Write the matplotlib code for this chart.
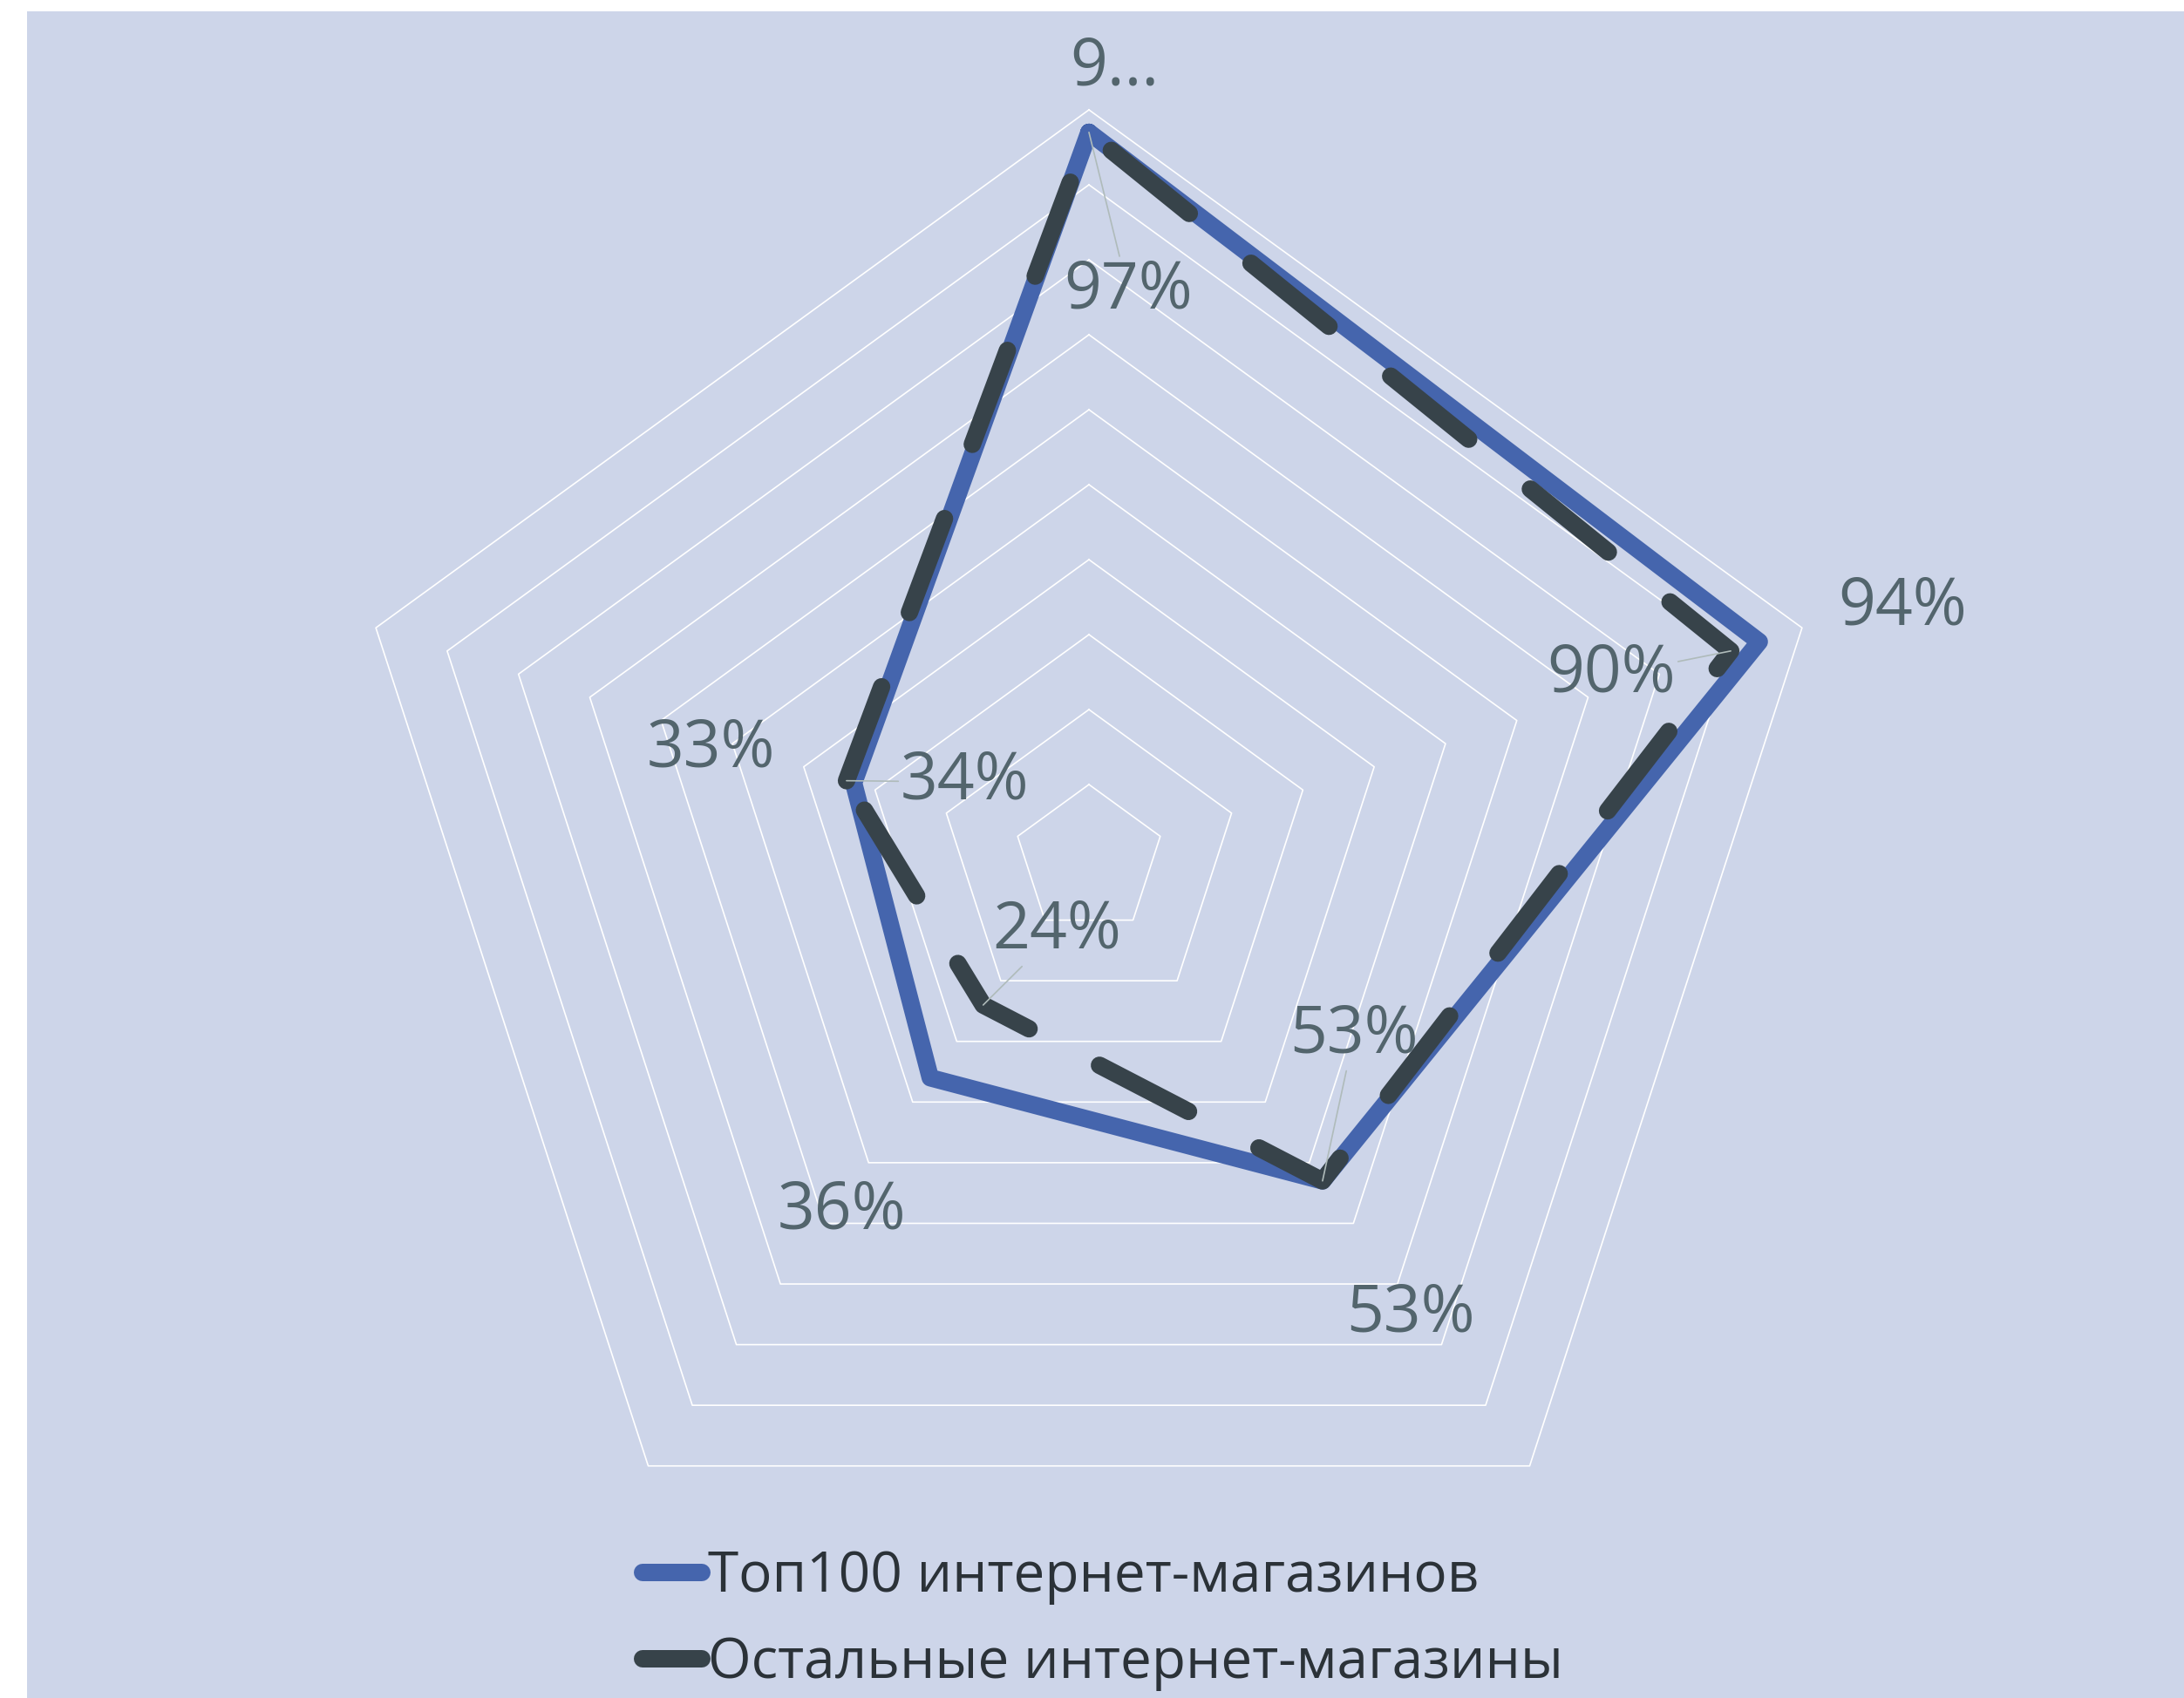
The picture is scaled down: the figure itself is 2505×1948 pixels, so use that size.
import numpy as np
import matplotlib.pyplot as plt
from matplotlib.patches import Rectangle
from matplotlib.lines import Line2D

plt.rcParams['font.family'] = ['Open Sans', 'DejaVu Sans']

# data <<<
n_axes = 5
top100 = [0.97, 0.94, 0.53, 0.36, 0.33]
others = [0.97, 0.90, 0.53, 0.24, 0.34]
top100_labels = ["9...", "94%", "53%", "36%", "33%"]
others_labels = ["97%", "90%", "53%", "24%", "34%"]
series_names = ["Топ100 интернет-магазинов", "Остальные интернет-магазины"]
grid_levels = [0.1, 0.2, 0.3, 0.4, 0.5, 0.6, 0.7, 0.8, 0.9, 1.0]
# >>>

BG = "#CDD5E9"
BLUE = "#4565AD"
DARK = "#37434A"
LABEL = "#53656D"

W, H = 2505, 1948
fig = plt.figure(figsize=(W / 100, H / 100), dpi=100, facecolor="white")
fig.patches.append(Rectangle((31 / W, 0), 1 - 31 / W, (H - 13) / H,
                             transform=fig.transFigure, facecolor=BG,
                             edgecolor="none", zorder=-10))

# polar axes: centre at (1249, 986) px, radius 860 px
cx, cy, R = 1249, 986, 860
ax = fig.add_axes([(cx - R) / W, (H - cy - R) / H, 2 * R / W, 2 * R / H],
                  projection="polar")
ax.set_facecolor("none")
ax.set_theta_zero_location("N")
ax.set_theta_direction(-1)
ax.set_ylim(0, 1)
ax.grid(False)
ax.spines["polar"].set_visible(False)
ax.set_xticks([])
ax.set_yticks([])

theta = np.linspace(0, 2 * np.pi, n_axes, endpoint=False)
theta_c = np.append(theta, theta[0])
others_c = others + others[:1]

for lev in grid_levels:
    ax.plot(theta_c, [lev] * (n_axes + 1), color="white", lw=1.2,
            zorder=1, clip_on=False)

ax.plot(theta_c, top100 + top100[:1], color=BLUE, lw=14.4,
        solid_joinstyle="round", solid_capstyle="round", zorder=3, clip_on=False)
# dashed series: the dash pattern restarts on the closing edge, as in the original
dash_kw = dict(color=DARK, lw=14.4, dash_capstyle="round",
               dash_joinstyle="round", zorder=4, clip_on=False)
ax.plot(theta_c[:n_axes], others_c[:n_axes],
        linestyle=(8.65, (5.75, 4.55)), **dash_kw)
ax.plot(theta_c[n_axes - 1:], others_c[n_axes - 1:],
        linestyle=(0, (5.75, 4.55)), **dash_kw)

# data labels (offsets in px from the point to the label baseline centre)
top100_offsets = [(29, 54), (164, 20), (101, -173), (-102, -173), (-164, 19)]
others_offsets = [(45, -202), (-137, -47), (36, 147), (85, 65), (136, -21)]

for th, v, txt, off in zip(theta, top100, top100_labels, top100_offsets):
    ax.annotate(txt, xy=(th, v), xytext=off, textcoords="offset pixels",
                ha="center", va="baseline", fontsize=54, color=LABEL,
                zorder=6, annotation_clip=False)

for th, v, txt, off in zip(theta, others, others_labels, others_offsets):
    ax.annotate(txt, xy=(th, v), xytext=off, textcoords="offset pixels",
                ha="center", va="baseline", fontsize=54, color=LABEL,
                zorder=6, annotation_clip=False,
                arrowprops=dict(arrowstyle="-", color="#AFBBBA", lw=1.2,
                                shrinkA=0, shrinkB=0))

handles = [Line2D([], [], color=BLUE, lw=14.4, solid_capstyle="round"),
           Line2D([], [], color=DARK, lw=14.4, solid_capstyle="round")]
fig.legend(handles, series_names, loc="upper left",
           bbox_to_anchor=(737 / W, (H - 1777) / H), bbox_transform=fig.transFigure,
           frameon=False, fontsize=46, handlelength=1.07, handletextpad=0.1,
           labelspacing=0.55, borderpad=0, borderaxespad=0, labelcolor="#2B3238")

fig.savefig("out.png", dpi=100, facecolor=fig.get_facecolor())
